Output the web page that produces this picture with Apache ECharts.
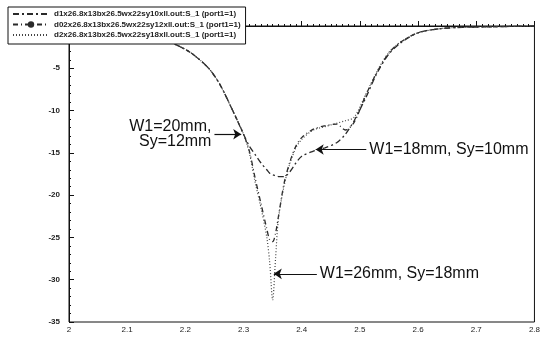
<!DOCTYPE html>
<html>
<head>
<meta charset="utf-8">
<script src="https://cdn.jsdelivr.net/npm/echarts@6/dist/echarts.min.js"></script>
<style>
  html, body { margin: 0; padding: 0; background: #fff; }
  #chart { width: 543px; height: 338px; }
</style>
</head>
<body>
<div id="chart"></div>
<script>
// frequency (GHz)
const freq = [2.00, 2.05, 2.10, 2.14, 2.18, 2.21, 2.24, 2.26, 2.28, 2.30, 2.31, 2.32, 2.33, 2.34,
  2.345, 2.35, 2.355, 2.36, 2.37, 2.38, 2.39, 2.40, 2.42, 2.44, 2.46, 2.475, 2.49, 2.51,
  2.53, 2.55, 2.57, 2.60, 2.64, 2.68, 2.72, 2.76, 2.80]

// S11 (dB) for the three cases
const sy10 = [-0.3, -0.5, -0.8, -1.2, -2.1, -3.2, -5.0, -7.0, -9.8, -12.8, -14.2, -15.2, -16.2, -17.0,
  -17.4, -17.6, -17.7, -17.8, -17.8, -17.2, -16.2, -15.4, -14.8, -14.4, -13.8, -12.8, -11.2, -8.5,
  -5.5, -3.3, -2.0, -0.8, -0.3, -0.15, -0.1, -0.05, 0]
const sy12 = [-0.3, -0.5, -0.8, -1.2, -2.1, -3.2, -5.0, -7.0, -9.8, -12.8, -14.8, -18.0, -21.0, -24.0,
  -25.3, -25.5, -24.5, -22.5, -18.5, -16.0, -14.2, -13.2, -12.2, -11.8, -11.6, -12.3, -11.4, -8.2,
  -5.4, -3.2, -1.9, -0.8, -0.3, -0.15, -0.1, -0.05, 0]
const sy18 = [-0.3, -0.5, -0.8, -1.2, -2.1, -3.2, -5.0, -7.0, -9.8, -12.8, -15.0, -18.5, -21.5, -25.0,
  -28.0, -32.4, -27.5, -22.8, -18.8, -16.2, -14.4, -13.4, -12.3, -11.9, -11.5, -11.2, -10.8, -8.1,
  -5.3, -3.1, -1.9, -0.8, -0.3, -0.15, -0.1, -0.05, 0]

const legendNames = [
  'd1x26.8x13bx26.5wx22sy10xll.out:S_1 (port1=1)',
  'd02x26.8x13bx26.5wx22sy12xll.out:S_1 (port1=1)',
  'd2x26.8x13bx26.5wx22sy18xll.out:S_1 (port1=1)'
]

const xTicks = ['2', '2.1', '2.2', '2.3', '2.4', '2.5', '2.6', '2.7', '2.8']

const pairs = (ys) => freq.map((f, i) => [f, ys[i]])

const chart = echarts.init(document.getElementById('chart'))

const annoFont = { fontFamily: 'Liberation Sans, Arial', fontSize: 16, color: '#111' }

const option = {
  backgroundColor: '#fff',
  animation: false,
  grid: { left: 69, right: 6, top: 26, bottom: 16, show: true, borderColor: '#111', borderWidth: 1 },
  legend: {
    left: 8, top: 7, orient: 'vertical',
    itemWidth: 36, itemHeight: 8, itemGap: 2.5,
    padding: [3, 5, 5, 4],
    backgroundColor: '#fff', borderColor: '#111', borderWidth: 1, borderRadius: 0,
    textStyle: { fontSize: 8, fontWeight: 'bold', color: '#222', fontFamily: 'Liberation Sans, Arial' },
    data: [
      { name: legendNames[0], itemStyle: { opacity: 0 } },
      { name: legendNames[1] },
      { name: legendNames[2], itemStyle: { opacity: 0 } }
    ],
    z: 10
  },
  xAxis: {
    type: 'value', min: 2, max: 2.8, interval: 0.1,
    axisLine: { lineStyle: { color: '#111' } },
    axisTick: { inside: true, length: 5, lineStyle: { color: '#111' } },
    minorTick: { show: true, splitNumber: 10, length: 2, lineStyle: { color: '#111' } },
    splitLine: { show: false },
    axisLabel: {
      fontSize: 8, color: '#222', margin: 4,
      formatter: (v) => xTicks[Math.round((v - 2) * 10)]
    }
  },
  yAxis: {
    type: 'value', min: -35, max: 0, interval: 5,
    axisLine: { lineStyle: { color: '#111' } },
    axisTick: { inside: true, length: 5, lineStyle: { color: '#111' } },
    minorTick: { show: true, splitNumber: 5, length: 2, lineStyle: { color: '#111' } },
    splitLine: { show: false },
    axisLabel: { fontSize: 8, fontWeight: 'bold', color: '#222', margin: 9 }
  },
  series: [
    {
      name: legendNames[0], type: 'line', data: pairs(sy10), symbol: 'none', smooth: 0.3,
      lineStyle: { color: '#2a2a2a', width: 1.3, type: [6, 3, 2, 3] }, itemStyle: { color: '#2a2a2a' },
      markLine: {
        silent: true, symbol: ['none', 'arrow'], symbolSize: 8,
        lineStyle: { type: 'solid', color: '#111', width: 1.2 },
        label: Object.assign({ position: 'start', distance: 3 }, annoFont),
        data: [
          [{ coord: [2.511, -14.6], label: { formatter: 'W1=18mm, Sy=10mm' } }, { coord: [2.424, -14.6] }]
        ]
      }
    },
    {
      name: legendNames[1], type: 'line', data: pairs(sy12), symbol: 'circle', symbolSize: 4,
      showSymbol: false, smooth: 0.3,
      lineStyle: { color: '#2a2a2a', width: 1.3, type: [5, 3, 1, 3] }, itemStyle: { color: '#2a2a2a' },
      markLine: {
        silent: true, symbol: ['none', 'arrow'], symbolSize: 8,
        lineStyle: { type: 'solid', color: '#111', width: 1.2 },
        label: Object.assign({ position: 'start', distance: 3, lineHeight: 15 }, annoFont),
        data: [
          [{ coord: [2.25, -12.8], label: { formatter: 'W1=20mm,\nSy=12mm' } }, { coord: [2.296, -12.8] }]
        ]
      }
    },
    {
      name: legendNames[2], type: 'line', data: pairs(sy18), symbol: 'none', smooth: 0.3,
      lineStyle: { color: '#444', width: 1.2, type: [1, 2] }, itemStyle: { color: '#444' },
      markLine: {
        silent: true, symbol: ['none', 'arrow'], symbolSize: 8,
        lineStyle: { type: 'solid', color: '#111', width: 1.2 },
        label: Object.assign({ position: 'start', distance: 3 }, annoFont),
        data: [
          [{ coord: [2.426, -29.3], label: { formatter: 'W1=26mm, Sy=18mm' } }, { coord: [2.352, -29.3] }]
        ]
      }
    }
  ]
}

chart.setOption(option)

window.addEventListener('resize', () => {
  chart.resize()
})
</script>
</body>
</html>
